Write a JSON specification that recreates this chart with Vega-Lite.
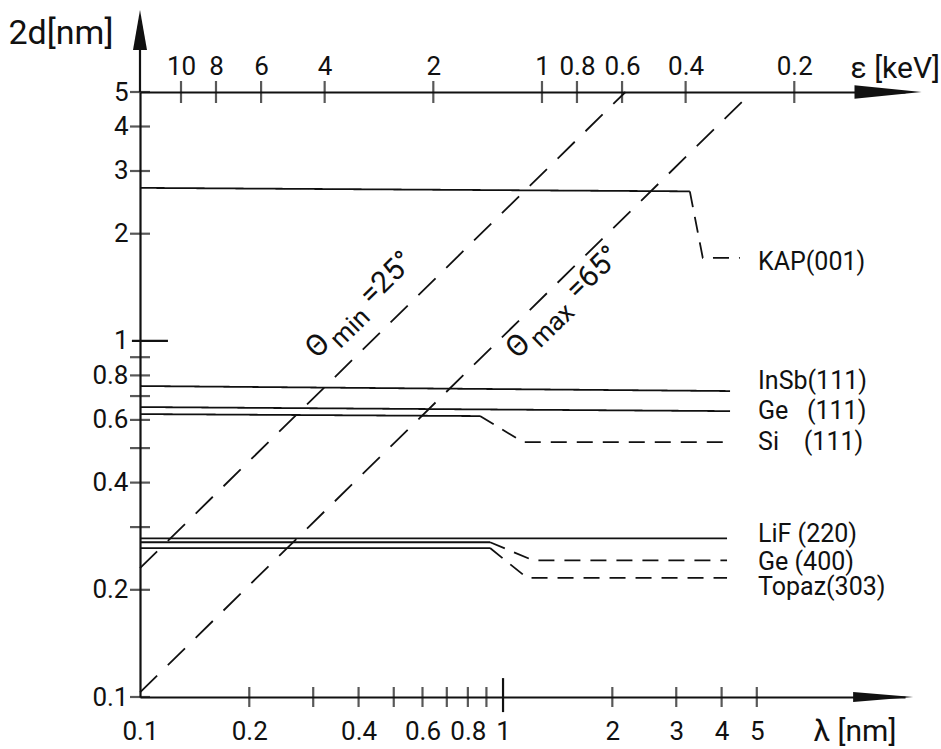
{
  "$schema": "https://vega.github.io/schema/vega-lite/v6.json",
  "width": 765,
  "height": 605,
  "autosize": {"type": "none"},
  "padding": {"left": 140, "top": 92, "right": 36, "bottom": 52},
  "background": "white",
  "config": {
    "view": {"stroke": null},
    "font": "Roboto",
    "axis": {
      "grid": false, "domainColor": "#111", "domainWidth": 2.2, "ticks": false, "tickSize": 0,
      "labelColor": "#111", "labelFont": "Roboto", "labelFontSize": 26, "titleFont": "Roboto",
      "titleColor": "#111", "titleFontWeight": "normal", "labelOverlap": false, "labelFlush": false
    },
    "text": {"font": "Roboto", "color": "#111"}
  },
  "datasets": {
    "crystals": [
      {"crystal": "KAP(001)", "range": "usable", "lam": 0.1, "d": 2.69},
      {"crystal": "KAP(001)", "range": "usable", "lam": 3.27, "d": 2.63},
      {"crystal": "KAP(001)", "range": "beyond", "lam": 3.27, "d": 2.63},
      {"crystal": "KAP(001)", "range": "beyond", "lam": 3.55, "d": 1.71},
      {"crystal": "KAP(001)", "range": "beyond", "lam": 4.49, "d": 1.71},
      {"crystal": "InSb(111)", "range": "usable", "lam": 0.1, "d": 0.747},
      {"crystal": "InSb(111)", "range": "usable", "lam": 4.22, "d": 0.723},
      {"crystal": "Ge(111)", "range": "usable", "lam": 0.1, "d": 0.652},
      {"crystal": "Ge(111)", "range": "usable", "lam": 4.22, "d": 0.635},
      {"crystal": "Si(111)", "range": "usable", "lam": 0.1, "d": 0.623},
      {"crystal": "Si(111)", "range": "usable", "lam": 0.864, "d": 0.615},
      {"crystal": "Si(111)", "range": "beyond", "lam": 0.864, "d": 0.615},
      {"crystal": "Si(111)", "range": "beyond", "lam": 1.135, "d": 0.52},
      {"crystal": "Si(111)", "range": "beyond", "lam": 4.22, "d": 0.52},
      {"crystal": "LiF(220)", "range": "usable", "lam": 0.1, "d": 0.279},
      {"crystal": "LiF(220)", "range": "usable", "lam": 4.14, "d": 0.279},
      {"crystal": "Ge(400)", "range": "usable", "lam": 0.1, "d": 0.272},
      {"crystal": "Ge(400)", "range": "usable", "lam": 0.921, "d": 0.272},
      {"crystal": "Ge(400)", "range": "beyond", "lam": 0.921, "d": 0.272},
      {"crystal": "Ge(400)", "range": "beyond", "lam": 1.21, "d": 0.242},
      {"crystal": "Ge(400)", "range": "beyond", "lam": 4.14, "d": 0.242},
      {"crystal": "Topaz(303)", "range": "usable", "lam": 0.1, "d": 0.262},
      {"crystal": "Topaz(303)", "range": "usable", "lam": 0.921, "d": 0.262},
      {"crystal": "Topaz(303)", "range": "beyond", "lam": 0.921, "d": 0.262},
      {"crystal": "Topaz(303)", "range": "beyond", "lam": 1.165, "d": 0.216},
      {"crystal": "Topaz(303)", "range": "beyond", "lam": 4.14, "d": 0.216}
    ],
    "theta": [
      {"theta": "min", "lam": 0.1, "d": 0.23},
      {"theta": "min", "lam": 2.174, "d": 5},
      {"theta": "max", "lam": 0.1, "d": 0.103},
      {"theta": "max", "lam": 4.85, "d": 5}
    ],
    "labels": [
      {"name": "KAP(001)", "d": 1.666},
      {"name": "InSb(111)", "d": 0.771},
      {"name": "Ge\u00a0\u00a0\u00a0(111)", "d": 0.635},
      {"name": "Si\u00a0\u00a0\u00a0\u00a0(111)", "d": 0.52},
      {"name": "LiF (220)", "d": 0.287},
      {"name": "Ge (400)", "d": 0.24},
      {"name": "Topaz(303)", "d": 0.204}
    ],
    "yticks": [
      {"d": 0.1}, {"d": 0.2}, {"d": 0.3}, {"d": 0.4}, {"d": 0.5}, {"d": 0.6}, {"d": 0.7},
      {"d": 0.8}, {"d": 0.9}, {"d": 2}, {"d": 3}, {"d": 4}, {"d": 5}
    ],
    "xticks": [
      {"lam": 0.2}, {"lam": 0.3}, {"lam": 0.4}, {"lam": 0.5}, {"lam": 0.6}, {"lam": 0.7},
      {"lam": 0.8}, {"lam": 0.9}, {"lam": 2}, {"lam": 3}, {"lam": 4}, {"lam": 5}
    ],
    "eticks": [
      {"E": 10}, {"E": 8}, {"E": 6}, {"E": 4}, {"E": 2}, {"E": 1}, {"E": 0.8}, {"E": 0.6},
      {"E": 0.4}, {"E": 0.2}
    ]
  },
  "layer": [
    {
      "layer": [
        {
          "data": {"name": "crystals"},
          "mark": {"type": "line", "color": "#111", "strokeWidth": 1.8, "strokeCap": "butt"},
          "encoding": {
            "x": {
              "field": "lam", "type": "quantitative",
              "scale": {"type": "log", "domain": [0.1, 12.8], "nice": false},
              "axis": {
                "orient": "bottom", "values": [0.1, 0.2, 0.4, 0.6, 0.8, 1, 2, 3, 4, 5],
                "labelExpr": "format(datum.value, '~g')", "labelPadding": 21,
                "title": "λ [nm]", "titleX": 673, "titleY": 43, "titleAlign": "left",
                "titleBaseline": "alphabetic", "titleFontSize": 30, "titleAngle": 0
              }
            },
            "y": {
              "field": "d", "type": "quantitative",
              "scale": {"type": "log", "domain": [0.1, 5], "nice": false},
              "axis": {
                "values": [0.1, 0.2, 0.4, 0.6, 0.8, 1, 2, 3, 4, 5],
                "labelExpr": "format(datum.value, '~g')", "labelPadding": 12,
                "labelAlign": "right", "labelBaseline": "middle",
                "title": "2d[nm]", "titleAngle": 0, "titleX": -132, "titleY": -49,
                "titleAlign": "left", "titleBaseline": "alphabetic", "titleFontSize": 34
              }
            },
            "detail": {"field": "crystal"},
            "strokeDash": {
              "field": "range", "type": "nominal",
              "scale": {"domain": ["usable", "beyond"], "range": [[1, 0], [16, 10]]},
              "legend": null
            }
          }
        },
        {
          "data": {"name": "theta"},
          "mark": {"type": "line", "color": "#111", "strokeWidth": 1.8, "strokeDash": [24, 15], "strokeCap": "butt"},
          "encoding": {
            "x": {"field": "lam", "type": "quantitative", "scale": {"type": "log", "domain": [0.1, 12.8], "nice": false}},
            "y": {"field": "d", "type": "quantitative", "scale": {"type": "log", "domain": [0.1, 5], "nice": false}},
            "detail": {"field": "theta"}
          }
        },
        {
          "data": {"name": "yticks"},
          "mark": {"type": "tick", "orient": "horizontal", "size": 20, "thickness": 2.2, "color": "#111"},
          "encoding": {
            "x": {"datum": 0.1, "scale": {"type": "log", "domain": [0.1, 12.8], "nice": false}},
            "y": {"field": "d", "type": "quantitative", "scale": {"type": "log", "domain": [0.1, 5], "nice": false}}
          }
        },
        {
          "data": {"name": "xticks"},
          "mark": {"type": "tick", "orient": "vertical", "size": 20, "thickness": 2.2, "color": "#111"},
          "encoding": {
            "x": {"field": "lam", "type": "quantitative", "scale": {"type": "log", "domain": [0.1, 12.8], "nice": false}},
            "y": {"datum": 0.1, "scale": {"type": "log", "domain": [0.1, 5], "nice": false}}
          }
        },
        {
          "data": {"values": [{}]},
          "mark": {"type": "rule", "color": "#111", "strokeWidth": 2.2},
          "encoding": {
            "x": {"datum": 0.095, "scale": {"type": "log", "domain": [0.1, 12.8], "nice": false}},
            "x2": {"datum": 0.1194},
            "y": {"datum": 1, "scale": {"type": "log", "domain": [0.1, 5], "nice": false}}
          }
        },
        {
          "data": {"values": [{}]},
          "mark": {"type": "rule", "color": "#111", "strokeWidth": 2.2},
          "encoding": {
            "x": {"datum": 1, "scale": {"type": "log", "domain": [0.1, 12.8], "nice": false}},
            "y": {"datum": 0.0907, "scale": {"type": "log", "domain": [0.1, 5], "nice": false}},
            "y2": {"datum": 0.113}
          }
        },
        {
          "data": {"values": [{}]},
          "mark": {"type": "rule", "color": "#111", "strokeWidth": 2.2},
          "encoding": {
            "x": {"datum": 0.1, "scale": {"type": "log", "domain": [0.1, 12.8], "nice": false}},
            "y": {"datum": 5, "scale": {"type": "log", "domain": [0.1, 5], "nice": false}},
            "y2": {"datum": 6.6}
          }
        },
        {
          "data": {"values": [{}]},
          "mark": {"type": "point", "shape": "M0,-1L0.35,1L-0.35,1Z", "size": 1600, "filled": true, "color": "#111", "opacity": 1},
          "encoding": {
            "x": {"datum": 0.1, "scale": {"type": "log", "domain": [0.1, 12.8], "nice": false}},
            "y": {"datum": 7.47, "scale": {"type": "log", "domain": [0.1, 5], "nice": false}}
          }
        },
        {
          "data": {"values": [{}]},
          "mark": {"type": "point", "shape": "M-1,-0.17L1,0L-1,0.17Z", "size": 3600, "filled": true, "color": "#111", "opacity": 1},
          "encoding": {
            "x": {"datum": 11.14, "scale": {"type": "log", "domain": [0.1, 12.8], "nice": false}},
            "y": {"datum": 0.1, "scale": {"type": "log", "domain": [0.1, 5], "nice": false}}
          }
        },
        {
          "data": {"values": [{}]},
          "mark": {"type": "point", "shape": "M-1,-0.2L1,0L-1,0.2Z", "size": 4489, "filled": true, "color": "#111", "opacity": 1},
          "encoding": {
            "x": {"datum": 11.49, "scale": {"type": "log", "domain": [0.1, 12.8], "nice": false}},
            "y": {"datum": 5, "scale": {"type": "log", "domain": [0.1, 5], "nice": false}}
          }
        },
        {
          "data": {"name": "labels"},
          "mark": {"type": "text", "align": "left", "baseline": "middle", "fontSize": 25, "color": "#111"},
          "encoding": {
            "x": {"datum": 5.04, "scale": {"type": "log", "domain": [0.1, 12.8], "nice": false}},
            "y": {"field": "d", "type": "quantitative", "scale": {"type": "log", "domain": [0.1, 5], "nice": false}},
            "text": {"field": "name"}
          }
        },
        {
          "data": {"values": [{"lab": "Θ", "lam": 0.467, "d": 1.074}]},
          "mark": {"type": "text", "align": "left", "baseline": "middle", "fontSize": 30, "angle": -44.4, "dx": -68, "dy": -34, "color": "#111"},
          "encoding": {
            "x": {"field": "lam", "type": "quantitative", "scale": {"type": "log", "domain": [0.1, 12.8], "nice": false}},
            "y": {"field": "d", "type": "quantitative", "scale": {"type": "log", "domain": [0.1, 5], "nice": false}},
            "text": {"field": "lab"}
          }
        },
        {
          "data": {"values": [{"lab": "min", "lam": 0.467, "d": 1.074}]},
          "mark": {"type": "text", "align": "left", "baseline": "middle", "fontSize": 26, "angle": -44.4, "dx": -44, "dy": -24, "color": "#111"},
          "encoding": {
            "x": {"field": "lam", "type": "quantitative", "scale": {"type": "log", "domain": [0.1, 12.8], "nice": false}},
            "y": {"field": "d", "type": "quantitative", "scale": {"type": "log", "domain": [0.1, 5], "nice": false}},
            "text": {"field": "lab"}
          }
        },
        {
          "data": {"values": [{"lab": "=25°", "lam": 0.467, "d": 1.074}]},
          "mark": {"type": "text", "align": "left", "baseline": "middle", "fontSize": 30, "angle": -44.4, "dx": 8, "dy": -34, "color": "#111"},
          "encoding": {
            "x": {"field": "lam", "type": "quantitative", "scale": {"type": "log", "domain": [0.1, 12.8], "nice": false}},
            "y": {"field": "d", "type": "quantitative", "scale": {"type": "log", "domain": [0.1, 5], "nice": false}},
            "text": {"field": "lab"}
          }
        },
        {
          "data": {"values": [{"lab": "Θ", "lam": 1.348, "d": 1.388}]},
          "mark": {"type": "text", "align": "left", "baseline": "middle", "fontSize": 30, "angle": -44.4, "dx": -72, "dy": 18, "color": "#111"},
          "encoding": {
            "x": {"field": "lam", "type": "quantitative", "scale": {"type": "log", "domain": [0.1, 12.8], "nice": false}},
            "y": {"field": "d", "type": "quantitative", "scale": {"type": "log", "domain": [0.1, 5], "nice": false}},
            "text": {"field": "lab"}
          }
        },
        {
          "data": {"values": [{"lab": "max", "lam": 1.348, "d": 1.388}]},
          "mark": {"type": "text", "align": "left", "baseline": "middle", "fontSize": 26, "angle": -44.4, "dx": -48, "dy": 27, "color": "#111"},
          "encoding": {
            "x": {"field": "lam", "type": "quantitative", "scale": {"type": "log", "domain": [0.1, 12.8], "nice": false}},
            "y": {"field": "d", "type": "quantitative", "scale": {"type": "log", "domain": [0.1, 5], "nice": false}},
            "text": {"field": "lab"}
          }
        },
        {
          "data": {"values": [{"lab": "=65°", "lam": 1.348, "d": 1.388}]},
          "mark": {"type": "text", "align": "left", "baseline": "middle", "fontSize": 30, "angle": -44.4, "dx": 12, "dy": 18, "color": "#111"},
          "encoding": {
            "x": {"field": "lam", "type": "quantitative", "scale": {"type": "log", "domain": [0.1, 12.8], "nice": false}},
            "y": {"field": "d", "type": "quantitative", "scale": {"type": "log", "domain": [0.1, 5], "nice": false}},
            "text": {"field": "lab"}
          }
        }
      ]
    },
    {
      "data": {"name": "eticks"},
      "mark": {"type": "tick", "orient": "vertical", "size": 22, "thickness": 2.2, "color": "#111"},
      "encoding": {
        "x": {
          "field": "E", "type": "quantitative",
          "scale": {"type": "log", "domain": [0.0987, 12.99], "reverse": true, "nice": false},
          "axis": {
            "orient": "top", "values": [10, 8, 6, 4, 2, 1, 0.8, 0.6, 0.4, 0.2],
            "labelExpr": "format(datum.value, '~g')", "labelPadding": 18, "labelBaseline": "alphabetic",
            "title": "ε [keV]", "titleX": 710, "titleY": -15, "titleAlign": "left",
            "titleBaseline": "alphabetic", "titleFontSize": 30, "titleAngle": 0
          }
        },
        "y": {"datum": 5, "scale": {"type": "log", "domain": [0.1, 5], "nice": false}}
      }
    }
  ],
  "resolve": {"scale": {"x": "independent"}}
}
